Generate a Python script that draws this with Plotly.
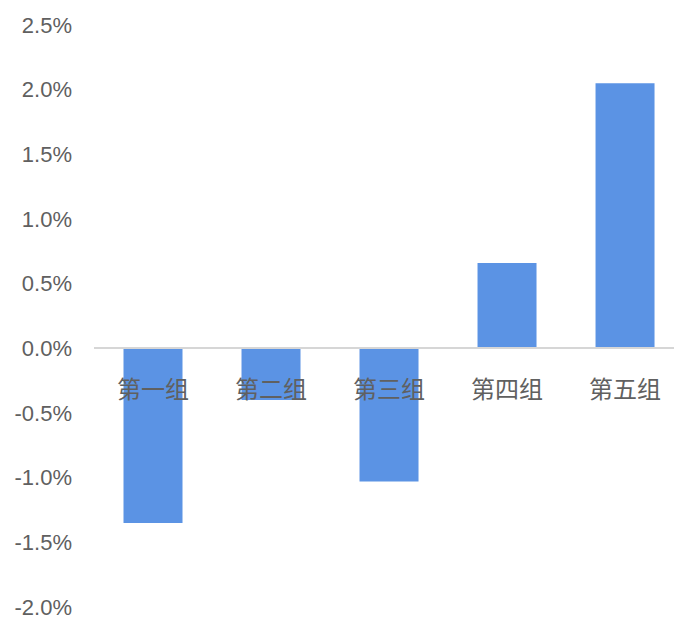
import plotly.graph_objects as go

# Group returns (%)
groups = ["第一组", "第二组", "第三组", "第四组", "第五组"]
returns_pct = [-1.35, -0.40, -1.03, 0.66, 2.05]

# Value axis ticks
y_ticks = [-2.0, -1.5, -1.0, -0.5, 0.0, 0.5, 1.0, 1.5, 2.0, 2.5]
y_tick_labels = [f"{v:.1f}%" for v in y_ticks]

y_min, y_max = -2.0, 2.5
bar_color = "#5b93e4"
text_color = "#606060"

fig = go.Figure(
    go.Bar(
        x=groups,
        y=returns_pct,
        marker=dict(color=bar_color, line=dict(width=0)),
        hoverinfo="x+y",
    )
)

# Category axis sits on the zero line
zero_pos = (0 - y_min) / (y_max - y_min)

fig.update_layout(
    width=674,
    height=620,
    margin=dict(l=94, r=0, t=25, b=13),
    paper_bgcolor="white",
    plot_bgcolor="white",
    bargap=0.5,
    showlegend=False,
    font=dict(family="Noto Sans CJK SC, Liberation Sans, sans-serif", color=text_color),
    xaxis=dict(
        anchor="free",
        position=zero_pos,
        range=[-0.5, 4.415],
        showline=True,
        linecolor="#d6d6d6",
        linewidth=1.5,
        showgrid=False,
        zeroline=False,
        ticks="",
        ticklabelstandoff=20,
        tickfont=dict(size=24, family="Noto Sans CJK SC, sans-serif", color=text_color),
    ),
    yaxis=dict(
        range=[y_min, y_max],
        tickvals=y_ticks,
        ticktext=y_tick_labels,
        showgrid=False,
        zeroline=False,
        showline=False,
        ticks="",
        ticklabelstandoff=21,
        tickfont=dict(size=22, family="Liberation Sans, Arial, sans-serif", color=text_color),
    ),
)

fig.write_html("out.html")
